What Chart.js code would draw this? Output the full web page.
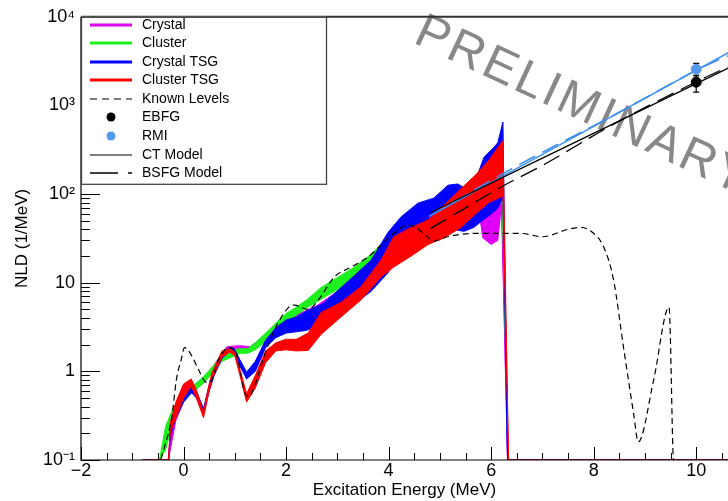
<!DOCTYPE html>
<html>
<head>
<meta charset="utf-8">
<title>NLD</title>
<script src="https://cdn.jsdelivr.net/npm/chart.js@4.4.1/dist/chart.umd.min.js"></script>
<style>
  html, body { margin: 0; padding: 0; background: #fff; }
  #wrap { width: 728px; height: 501px; }
</style>
</head>
<body>
<div id="wrap"><canvas id="nld" width="728" height="501"></canvas></div>
<script>
// Crystal (magenta band)
const crystalE  = [-0.8, -0.3, -0.27, -0.15, 0, 0.2, 0.4, 0.6, 0.85, 1.1, 1.3, 1.6, 2.0, 2.3, 2.6, 3.0, 3.5, 4.0, 4.5, 5.0, 5.4, 5.65, 5.75, 5.84, 6.0, 6.13, 6.2, 6.32, 10.7];
const crystalLo = [0.1, 0.1, 0.12, 0.28, 0.45, 0.6, 0.75, 1.0, 1.6, 1.75, 1.75, 2.2, 3.0, 3.8, 4.5, 6, 10, 17, 28, 40, 50, 55, 70, 32, 27, 30, 75, 0.1, 0.1];
const crystalHi = [0.1, 0.1, 0.15, 0.38, 0.58, 0.7, 0.85, 1.2, 1.9, 1.95, 1.9, 2.6, 3.8, 4.6, 5.5, 8, 14, 24, 40, 55, 70, 80, 90, 85, 90, 100, 120, 0.1, 0.1];

// Cluster (green band)
const clusterE  = [-0.8, -0.47, -0.35, -0.2, 0, 0.15, 0.35, 0.55, 0.75, 0.95, 1.1, 1.25, 1.4, 1.6, 1.8, 2.0, 2.2, 2.4, 2.68, 3.02, 3.33, 3.66, 3.85, 4.2, 4.6, 5.0, 5.4, 5.8, 6.05, 6.22, 6.33, 10.7];
const clusterLo = [0.1, 0.1, 0.13, 0.28, 0.45, 0.57, 0.7, 0.93, 1.3, 1.45, 1.6, 1.6, 1.75, 2.15, 2.8, 3.6, 4.3, 5.2, 6.5, 8.5, 11, 15, 19, 28, 38, 48, 56, 66, 72, 80, 0.1, 0.1];
const clusterHi = [0.1, 0.1, 0.24, 0.39, 0.54, 0.66, 0.83, 1.1, 1.53, 1.75, 1.8, 1.8, 2.1, 2.7, 3.5, 4.5, 5.3, 6.4, 8.8, 11.6, 15, 21, 27, 38, 52, 65, 75, 85, 95, 100, 0.1, 0.1];

// Crystal TSG (blue band)
const crystalTsgE  = [-0.8, -0.29, -0.26, -0.15, 0, 0.15, 0.25, 0.39, 0.5, 0.6, 0.75, 0.9, 1.0, 1.1, 1.23, 1.4, 1.6, 1.8, 2.0, 2.2, 2.4, 2.72, 3.02, 3.33, 3.66, 3.99, 4.24, 4.57, 4.88, 5.16, 5.35, 5.47, 5.66, 5.86, 6.04, 6.13, 6.23, 6.32, 10.7];
const crystalTsgLo = [0.1, 0.1, 0.18, 0.3, 0.45, 0.58, 0.5, 0.34, 0.6, 0.9, 1.4, 1.7, 1.6, 1.15, 0.82, 1.0, 1.85, 2.4, 2.7, 2.8, 2.9, 3.4, 4.2, 5.8, 8, 13, 20, 28, 34, 40, 39, 38, 42, 52, 62, 70, 90, 0.1, 0.1];
const crystalTsgHi = [0.1, 0.1, 0.22, 0.4, 0.6, 0.66, 0.6, 0.38, 0.7, 1.05, 1.65, 1.85, 1.75, 1.35, 0.98, 1.3, 2.25, 3.1, 3.8, 4.1, 4.8, 5.8, 8.3, 12, 18, 37, 55, 79, 90, 126, 130, 118, 125, 260, 330, 380, 650, 0.1, 0.1];

// Cluster TSG (red band)
const clusterTsgE  = [-0.8, -0.29, -0.26, -0.15, 0, 0.15, 0.25, 0.39, 0.47, 0.55, 0.75, 0.9, 1.0, 1.1, 1.23, 1.4, 1.6, 1.8, 2.0, 2.2, 2.43, 2.68, 3.07, 3.46, 3.85, 4.1, 4.44, 4.77, 5.08, 5.41, 5.7, 5.95, 6.23, 6.34, 10.7];
const clusterTsgLo = [0.1, 0.1, 0.2, 0.3, 0.5, 0.68, 0.5, 0.3, 0.5, 0.8, 1.45, 1.65, 1.5, 0.9, 0.45, 0.65, 1.25, 1.7, 1.75, 1.7, 1.72, 2.6, 4.1, 6.4, 11.6, 15, 20, 27, 32, 42, 60, 80, 95, 0.1, 0.1];
const clusterTsgHi = [0.1, 0.1, 0.26, 0.45, 0.72, 0.82, 0.62, 0.34, 0.6, 0.95, 1.7, 1.8, 1.65, 1.05, 0.56, 0.9, 1.7, 2.1, 2.3, 2.3, 2.7, 4.6, 6.0, 9, 18, 33, 42, 51, 75, 115, 165, 240, 400, 0.1, 0.1];

// Known levels
const levelsE = [-0.5, -0.37, -0.23, -0.14, -0.04, 0.02, 0.16, 0.29, 0.45, 0.55, 0.68, 0.88, 1.0, 1.07, 1.2, 1.27, 1.38, 1.52, 1.77, 2.04, 2.16, 2.43, 2.63, 2.94, 3.27, 3.6, 3.85, 4.1, 4.38, 4.53, 4.73, 4.88, 5.15, 5.66, 6.58, 7.0, 7.5, 7.75, 7.95, 8.2, 8.39, 8.58, 8.78, 8.87, 9.17, 9.47, 9.55, 9.6];
const levelsV = [0.08, 0.14, 0.3, 0.8, 1.4, 1.85, 1.5, 1.05, 0.75, 0.8, 1.34, 1.85, 1.75, 1.3, 0.56, 0.52, 0.66, 1.2, 2.9, 5.2, 5.6, 5.0, 6.4, 11.6, 15, 19.5, 26.5, 36, 44.6, 42, 34, 29.5, 33, 36, 36, 33, 40, 42, 38, 25, 10.6, 1.9, 0.33, 0.16, 0.8, 5.3, 0.11, 0.05];

// Models (black: EBFG normalisation, blue: RMI normalisation)
const ctE = [4.82, 7, 10.7];
const ctV = [62, 255, 2770];
const bsfgE = [4.82, 6.25, 7.06, 8.4, 10, 10.7];
const bsfgV = [41, 125, 220, 620, 1850, 2850];
const ctRmiE = [4.79, 7, 10.7];
const ctRmiV = [56, 280, 4160];
const bsfgRmiE = [4.79, 6.34, 7.2, 8.4, 10, 10.7];
const bsfgRmiV = [56, 185, 340, 780, 2500, 3800];

// Points at Sn with errors
const ebfgE = [10], ebfgV = [1830], ebfgLo = [1410], ebfgHi = [2190];
const rmiE = [10], rmiV = [2560], rmiLo = [2150], rmiHi = [2990];

// Ticks
const xTickValues = [-2, 0, 2, 4, 6, 8, 10];
const xTickLabels = ['\u22122', '0', '2', '4', '6', '8', '10'];
const yTickValues = [0.1, 1, 10, 100, 1000, 10000];
const yTickLabels = ['10\u207B\u00B9', '1', '10', '10\u00B2', '10\u00B3', '10\u2074'];

const seriesNames = ['Crystal', 'Cluster', 'Crystal TSG', 'Cluster TSG', 'Known Levels', 'EBFG', 'RMI', 'CT Model', 'BSFG Model'];

const MAGENTA = '#e000f5', GREEN = '#1ef01e', BLUE = '#0000ff', RED = '#ff0000';
const AZURE = '#3a8ef0', RMIDOT = '#5599ee';
const FONT = "'Liberation Sans', Arial, Helvetica, sans-serif";

const pts = (xs, ys) => xs.map((x, i) => ({ x: x, y: ys[i] }));

function band(label, color, xs, lo, hi, order) {
    return [
        { label: label + ' low', data: pts(xs, lo), borderColor: color, borderWidth: 1, pointRadius: 0, fill: false, order: order },
        { label: label, data: pts(xs, hi), borderColor: color, backgroundColor: color, borderWidth: 1, pointRadius: 0, fill: '-1', order: order }
    ];
}

const datasets = [
    ...band(seriesNames[0], MAGENTA, crystalE, crystalLo, crystalHi, 4),
    ...band(seriesNames[1], GREEN, clusterE, clusterLo, clusterHi, 3),
    ...band(seriesNames[2], BLUE, crystalTsgE, crystalTsgLo, crystalTsgHi, 2),
    ...band(seriesNames[3], RED, clusterTsgE, clusterTsgLo, clusterTsgHi, 1),
    { label: seriesNames[4], data: pts(levelsE, levelsV), borderColor: '#000', borderWidth: 1.2, borderDash: [6, 4],
      pointRadius: 0, fill: false, cubicInterpolationMode: 'monotone', order: 0 },
    { label: seriesNames[7], data: pts(ctE, ctV), borderColor: '#000', borderWidth: 1.3, pointRadius: 0, fill: false, order: 0 },
    { label: seriesNames[8], data: pts(bsfgE, bsfgV), borderColor: '#000', borderWidth: 1.3, borderDash: [18, 8], pointRadius: 0, fill: false, tension: 0.3, order: 0 },
    { label: 'CT Model RMI', data: pts(ctRmiE, ctRmiV), borderColor: AZURE, borderWidth: 1.5, pointRadius: 0, fill: false, order: 0 },
    { label: 'BSFG Model RMI', data: pts(bsfgRmiE, bsfgRmiV), borderColor: AZURE, borderWidth: 1.5, borderDash: [18, 8], pointRadius: 0, fill: false, tension: 0.3, order: 0 },
    { label: seriesNames[5], data: pts(ebfgE, ebfgV), showLine: false, pointRadius: 5, pointBackgroundColor: '#000', pointBorderColor: '#000', order: -1 },
    { label: seriesNames[6], data: pts(rmiE, rmiV), showLine: false, pointRadius: 5, pointBackgroundColor: RMIDOT, pointBorderColor: RMIDOT, order: -1 }
];

function findLabel(values, labels, v, logScale) {
    const i = values.findIndex(t => logScale ? Math.abs(Math.log10(t) - Math.log10(v)) < 1e-6 : Math.abs(t - v) < 1e-6);
    return i >= 0 ? labels[i] : '';
}

// frame, ticks inside, titles, legend, watermark, error bars
const decor = {
    id: 'decor',
    beforeDatasetsDraw(chart) {
        const ctx = chart.ctx;
        ctx.save();
        ctx.translate(412, 42);
        ctx.rotate(25 * Math.PI / 180);
        ctx.font = '49px ' + FONT;
        ctx.letterSpacing = '3px';
        ctx.fillStyle = '#888';
        ctx.textBaseline = 'alphabetic';
        ctx.fillText('PRELIMINARY', 0, 0);
        ctx.restore();

        // error bars
        const xs = chart.scales.x, ys = chart.scales.y;
        ctx.save();
        ctx.strokeStyle = '#000';
        ctx.lineWidth = 1.2;
        [[ebfgE, ebfgLo, ebfgHi], [rmiE, rmiLo, rmiHi]].forEach(([e, lo, hi]) => {
            e.forEach((x, i) => {
                const px = xs.getPixelForValue(x);
                const y1 = ys.getPixelForValue(lo[i]), y2 = ys.getPixelForValue(hi[i]);
                ctx.beginPath();
                ctx.moveTo(px, y1); ctx.lineTo(px, y2);
                ctx.moveTo(px - 3, y1); ctx.lineTo(px + 3, y1);
                ctx.moveTo(px - 3, y2); ctx.lineTo(px + 3, y2);
                ctx.stroke();
            });
        });
        ctx.restore();
    },
    afterDatasetsDraw(chart) {
        const ctx = chart.ctx;
        const a = chart.chartArea;
        const xs = chart.scales.x, ys = chart.scales.y;
        ctx.save();

        // frame
        ctx.strokeStyle = '#000';
        ctx.lineWidth = 1.2;
        ctx.beginPath();
        ctx.moveTo(a.left, a.top); ctx.lineTo(a.left, a.bottom); ctx.lineTo(a.right, a.bottom);
        ctx.stroke();
        ctx.strokeStyle = '#333';
        ctx.lineWidth = 2;
        ctx.beginPath();
        ctx.moveTo(a.left, a.top); ctx.lineTo(a.right, a.top);
        ctx.stroke();

        // ticks
        ctx.strokeStyle = '#000';
        ctx.lineWidth = 1;
        ctx.beginPath();
        for (let d = -1; d < 4; d++) {
            for (let k = 1; k < 10; k++) {
                const py = Math.round(ys.getPixelForValue(k * Math.pow(10, d))) + 0.5;
                ctx.moveTo(a.left, py); ctx.lineTo(a.left + (k === 1 ? 19 : 9), py);
            }
        }
        const py4 = Math.round(ys.getPixelForValue(10000)) + 0.5;
        ctx.moveTo(a.left, py4); ctx.lineTo(a.left + 19, py4);
        for (let v = -2; v <= xs.max; v += 0.5) {
            const px = Math.round(xs.getPixelForValue(v)) + 0.5;
            const major = Math.abs(v % 2) < 1e-9;
            ctx.moveTo(px, a.bottom); ctx.lineTo(px, a.bottom - (major ? 13 : 7));
        }
        ctx.stroke();

        // axis titles
        ctx.fillStyle = '#000';
        ctx.font = '17px ' + FONT;
        ctx.textAlign = 'center';
        ctx.textBaseline = 'middle';
        ctx.fillText('Excitation Energy (MeV)', (a.left + a.right) / 2, 490);
        ctx.save();
        ctx.translate(22, (a.top + a.bottom) / 2);
        ctx.rotate(-Math.PI / 2);
        ctx.fillText('NLD (1/MeV)', 0, 0);
        ctx.restore();

        // legend box
        const bx = a.left, by = a.top, bw = 245, bh = 167;
        ctx.fillStyle = '#fff';
        ctx.fillRect(bx, by, bw, bh);
        ctx.strokeStyle = '#444';
        ctx.lineWidth = 1.3;
        ctx.strokeRect(bx + 0.5, by + 0.5, bw, bh);

        const rows = [25, 43, 62, 80, 99, 117, 136, 155, 173];
        const x0 = 90, x1 = 132, tx = 142;
        const sample = [
            { c: MAGENTA, w: 3 }, { c: GREEN, w: 3 }, { c: BLUE, w: 3 }, { c: RED, w: 3 },
            { c: '#000', w: 1.2, dash: [7, 5] }, { dot: '#000' }, { dot: RMIDOT },
            { c: '#000', w: 1.2 }, { c: '#000', w: 1.4, dash: [28, 10] }
        ];
        sample.forEach((s, i) => {
            const y = rows[i];
            if (s.dot) {
                ctx.fillStyle = s.dot;
                ctx.beginPath();
                ctx.arc((x0 + x1) / 2, y, 4.5, 0, Math.PI * 2);
                ctx.fill();
            } else {
                ctx.strokeStyle = s.c;
                ctx.lineWidth = s.w;
                ctx.setLineDash(s.dash || []);
                ctx.beginPath();
                ctx.moveTo(x0, y); ctx.lineTo(x1, y);
                ctx.stroke();
                ctx.setLineDash([]);
            }
            ctx.fillStyle = '#000';
            ctx.font = '14px ' + FONT;
            ctx.textAlign = 'left';
            ctx.textBaseline = 'middle';
            ctx.fillText(seriesNames[i], tx, y);
        });
        ctx.restore();
    }
};

new Chart(document.getElementById('nld'), {
    type: 'line',
    data: { datasets: datasets },
    options: {
        responsive: false,
        animation: false,
        devicePixelRatio: 1,
        layout: { autoPadding: false, padding: { left: 0, top: 16, right: 0, bottom: 0 } },
        scales: {
            x: {
                type: 'linear', min: -2, max: 10.62,
                afterFit: (s) => { s.height = 41; },
                grid: { display: false, drawTicks: false },
                border: { display: false },
                ticks: {
                    stepSize: 2, includeBounds: false, maxRotation: 0, autoSkip: false, padding: 0,
                    color: '#000', font: { family: FONT, size: 18 },
                    callback: (v) => findLabel(xTickValues, xTickLabels, v, false)
                }
            },
            y: {
                type: 'logarithmic', min: 0.1, max: 10000,
                afterFit: (s) => { s.width = 81; },
                grid: { display: false, drawTicks: false },
                border: { display: false },
                ticks: {
                    autoSkip: false, padding: 6, color: '#000', font: { family: FONT, size: 18 },
                    callback: (v) => findLabel(yTickValues, yTickLabels, v, true)
                }
            }
        },
        plugins: { legend: { display: false }, tooltip: { enabled: false } }
    },
    plugins: [decor]
});
</script>
</body>
</html>
